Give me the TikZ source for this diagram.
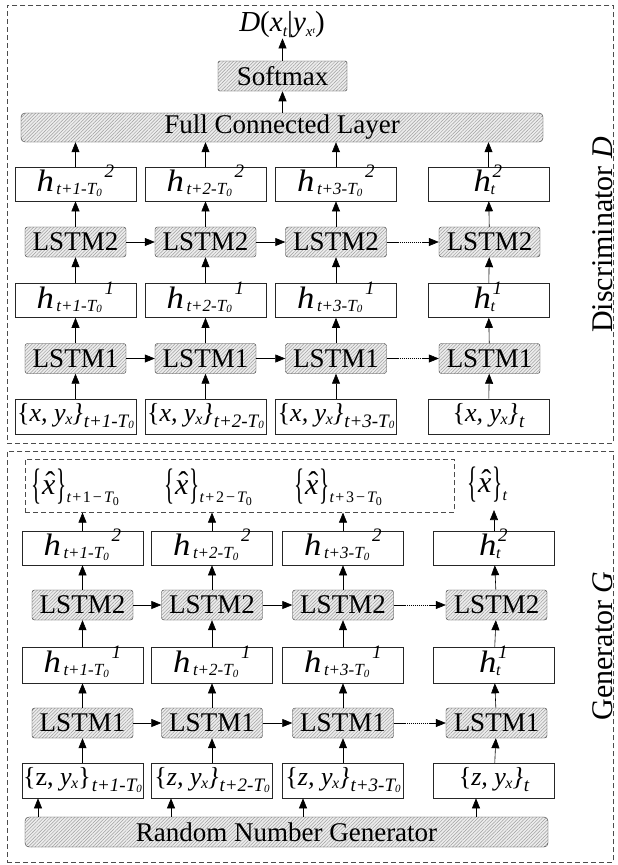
\documentclass[tikz,border=0pt]{standalone}
\usepackage{fontspec}
\usepackage{graphicx}
\setmainfont{Liberation Serif}
\usetikzlibrary{arrows.meta,patterns.meta}

\newcommand{\fsz}[1]{\fontsize{#1}{#1}\selectfont}
\newcommand{\at}[2]{\rlap{\kern#1pt #2}}
\newcommand{\hsub}[1]{{\itshape t+#1-T\lower1.5pt\hbox{\fsz{11}0}}}
\newcommand{\bigh}{\scalebox{1.12}[1]{\fsz{31}\itshape h}}
\newcommand{\hlab}[2]{\raisebox{0pt}[20pt][5pt]{\hbox to 78pt{\at{0}{\bigh}\at{20}{\lower3pt\hbox{\fsz{17}\hsub{#1}}}\at{68}{\raise14pt\hbox{\fsz{19}\itshape #2}}\hss}}}
\newcommand{\htlab}[1]{\raisebox{0pt}[20pt][5pt]{\hbox to 30pt{\at{0}{\bigh}\at{17}{\lower3pt\hbox{\fsz{16}\itshape t}}\at{19}{\raise14pt\hbox{\fsz{19}\itshape #1}}\hss}}}
\newcommand{\inlab}[2]{\raisebox{0pt}[17pt][8pt]{\hbox{\fsz{26}\{#1, {\itshape y}\kern-0.5pt\lower3pt\hbox{\fsz{16}\itshape x}\}\kern1pt\lower6pt\hbox{\fsz{19}#2}}}}
\newcommand{\bigbr}[1]{\scalebox{0.7}[1.42]{\fsz{30}#1}}
\newcommand{\xhat}{\hbox{\fsz{30}\ooalign{\itshape x\cr\hidewidth\kern3pt\raise2pt\hbox{\symbol{"02C6}}\hidewidth\cr}}}
\newcommand{\xhlab}[1]{\hbox{\lower4pt\hbox{\bigbr{\{}}\kern1pt\xhat\kern1pt\lower4pt\hbox{\bigbr{\}}}\lower8pt\hbox{\fsz{16}#1}}}
\newcommand{\xsub}[1]{{\itshape t}\kern1.5pt+\kern1.5pt#1\kern2pt−\kern2pt{\itshape T}\lower3pt\hbox{\fsz{12}0}}

\begin{document}
\begin{tikzpicture}[x=1pt,y=-1pt,
  hbox/.style={draw=black!85, minimum width=121pt, minimum height=34pt, inner sep=0pt, line width=0.6pt},
  hatchfill/.style={preaction={fill=gray!14}, pattern={Lines[angle=45,distance=2.4pt,line width=0.5pt]}, pattern color=gray!75},
  lstm/.style={draw=black!80, hatchfill, rounded corners=2.5pt, minimum width=101pt, minimum height=30pt, inner sep=0pt, font=\fsz{27}},
  arr/.style={-{Triangle[length=10pt,width=8pt]}, line width=0.6pt},
  dotlink/.style={arr, dash pattern=on 12pt off 1pt on 1pt off 1pt on 1pt off 1pt on 1pt off 1pt on 1pt off 1pt on 1pt off 1pt on 1pt off 1pt on 1pt off 1pt on 1pt off 1pt on 1pt off 1pt on 1pt off 1pt on 1pt off 1pt on 40pt off 0pt},
  dbox/.style={draw=black!70, dash pattern=on 5pt off 3pt, line width=0.6pt},
  side/.style={rotate=90, font=\fsz{30}}
]
\path[use as bounding box] (0,0) rectangle (618,865);

% ---------------- Discriminator ----------------
\node[dbox, minimum width=606pt, minimum height=438pt, inner sep=0pt, anchor=north west] (dframe) at (7,5) {};

\node[inner sep=0pt] (dout) at (282,25) {\hbox{\fsz{29}{\itshape D}({\itshape x}\lower5pt\hbox{\fsz{16}\itshape t}|{\itshape y}\lower5pt\hbox{\fsz{15}\itshape x\raise3pt\hbox{\fsz{9}\itshape t}})}};
\node[lstm, rounded corners=1.5pt, minimum width=129pt] (soft) at (282.5,76) {Softmax};
\node[lstm, rounded corners=4pt, minimum width=522pt, minimum height=29pt] (fc) at (282,127.5) {Full Connected Layer};

\foreach \i/\x in {1/75.5, 2/205.5, 3/336} {
  \node[hbox] (dh2-\i) at (\x,184) {\hlab{\i}{2}};
  \node[lstm] (dl2-\i) at (\x,242) {LSTM2};
  \node[hbox] (dh1-\i) at (\x,300.5) {\hlab{\i}{1}};
  \node[lstm] (dl1-\i) at (\x,358.5) {LSTM1};
  \node[hbox, minimum height=35pt] (din-\i) at (\x,416.5) {\inlab{\itshape x}{\hsub{\i}}};
}
\node[hbox] (dh2-4) at (488.5,184) {\htlab{2}};
\node[lstm] (dl2-4) at (489.5,242) {LSTM2};
\node[hbox] (dh1-4) at (488.5,300.5) {\htlab{1}};
\node[lstm] (dl1-4) at (489.5,358.5) {LSTM1};
\node[hbox, minimum height=35pt] (din-4) at (488.5,416.5) {\inlab{\itshape x}{\itshape t}};

\foreach \i in {1,2,3,4} {
  \draw[arr] (din-\i) -- (dl1-\i);
  \draw[arr] (dl1-\i) -- (dh1-\i);
  \draw[arr] (dh1-\i) -- (dl2-\i);
  \draw[arr] (dl2-\i) -- (dh2-\i);
  \draw[arr] (dh2-\i.north) -- (dh2-\i.north |- fc.south);
}
\draw[arr] (dl1-1) -- (dl1-2);
\draw[arr] (dl1-2) -- (dl1-3);
\draw[dotlink] (dl1-3) -- (dl1-4);
\draw[arr] (dl2-1) -- (dl2-2);
\draw[arr] (dl2-2) -- (dl2-3);
\draw[dotlink] (dl2-3) -- (dl2-4);
\draw[arr] (fc.north -| soft.south) -- (soft.south);
\draw[arr] (soft.north) -- (dout.south -| soft.north);

\node[side] (dlab) at (603,235) {Discriminator {\itshape D}};

% ---------------- Generator ----------------
\node[dbox, minimum width=606pt, minimum height=411pt, inner sep=0pt, anchor=north west] (gframe) at (7,451) {};
\node[dbox, minimum width=429pt, minimum height=53pt, inner sep=0pt, anchor=north west] (xbox) at (25,459) {};

\node[inner sep=0pt] (xh-1) at (75,487) {\xhlab{\xsub{1}}};
\node[inner sep=0pt] (xh-2) at (208,487) {\xhlab{\xsub{2}}};
\node[inner sep=0pt] (xh-3) at (338,487) {\xhlab{\xsub{3}}};
\node[inner sep=0pt] (xh-4) at (487,485) {\xhlab{\itshape t}};

\foreach \i/\x in {1/82.5, 2/212, 3/343} {
  \node[hbox] (gh2-\i) at (\x,548) {\hlab{\i}{2}};
  \node[lstm] (gl2-\i) at (\x,605) {LSTM2};
  \node[hbox, minimum height=36pt] (gh1-\i) at (\x,665) {\hlab{\i}{1}};
  \node[lstm] (gl1-\i) at (\x,723) {LSTM1};
}
\node[hbox, minimum height=35pt] (gin-1) at (82.5,780.5) {\inlab{z}{\hsub{1}}};
\node[hbox, minimum height=35pt] (gin-2) at (212,780.5) {\inlab{\itshape z}{\hsub{2}}};
\node[hbox, minimum height=35pt] (gin-3) at (343,780.5) {\inlab{\itshape z}{\hsub{3}}};
\node[hbox] (gh2-4) at (494,548) {\htlab{2}};
\node[lstm] (gl2-4) at (496.5,605) {LSTM2};
\node[hbox, minimum height=36pt] (gh1-4) at (494,665) {\htlab{1}};
\node[lstm] (gl1-4) at (496.5,723) {LSTM1};
\node[hbox, minimum height=35pt] (gin-4) at (494,780.5) {\inlab{\itshape z}{\itshape t}};

\node[lstm, rounded corners=4pt, minimum width=523pt] (rng) at (286.5,832) {Random Number Generator};

\foreach \i in {1,2,3,4} {
  \draw[arr] (gin-\i) -- (gl1-\i);
  \draw[arr] (gl1-\i) -- (gh1-\i);
  \draw[arr] (gh1-\i) -- (gl2-\i);
  \draw[arr] (gl2-\i) -- (gh2-\i);
}
\foreach \i in {1,2,3} {
  \draw[arr] (gh2-\i.north) -- (gh2-\i.north |- xbox.south);
}
\coordinate (x4end) at (494,510);
\draw[arr] (gh2-4.north) -- (x4end);

\draw[arr] (gl1-1) -- (gl1-2);
\draw[arr] (gl1-2) -- (gl1-3);
\draw[dotlink] (gl1-3) -- (gl1-4);
\draw[arr] (gl2-1) -- (gl2-2);
\draw[arr] (gl2-2) -- (gl2-3);
\draw[dotlink] (gl2-3) -- (gl2-4);

\foreach \i/\x in {1/38, 2/171, 3/303, 4/476} {
  \coordinate (rx-\i) at (\x,0);
  \draw[arr] (rng.north -| rx-\i) -- (gin-\i.south -| rx-\i);
}

\node[side] (glab) at (603,646) {Generator {\itshape G}};
\end{tikzpicture}
\end{document}
